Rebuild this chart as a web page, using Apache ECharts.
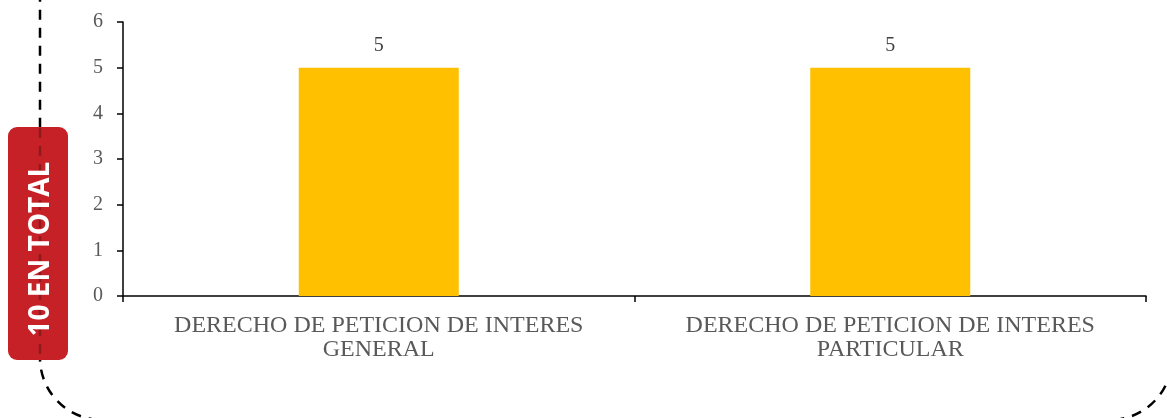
<!DOCTYPE html>
<html>
<head>
<meta charset="utf-8">
<script src="https://cdn.jsdelivr.net/npm/echarts@6/dist/echarts.min.js"></script>
<style>
  html, body { margin: 0; padding: 0; background: #fff; }
  #chart { width: 1167px; height: 418px; }
</style>
</head>
<body>
<div id="chart"></div>
<script>
  var categories = ['DERECHO DE PETICION DE INTERES\nGENERAL', 'DERECHO DE PETICION DE INTERES\nPARTICULAR'];
  var values = [5, 5];
  var yMax = 6;
  var badgeText = '10 EN TOTAL';

  var chart = echarts.init(document.getElementById('chart'));

  chart.setOption({
    animation: false,
    grid: { left: 123, right: 21, top: 22, bottom: 122 },
    xAxis: {
      type: 'category',
      data: categories,
      axisLine: { lineStyle: { color: '#000', width: 1.5 } },
      axisTick: { show: true, length: 6, lineStyle: { color: '#000', width: 1.5 } },
      axisLabel: {
        color: '#595959',
        fontFamily: 'Liberation Serif',
        fontSize: 24,
        lineHeight: 24,
        margin: 18,
        interval: 0
      }
    },
    yAxis: {
      type: 'value',
      min: 0,
      max: yMax,
      interval: 1,
      splitLine: { show: false },
      axisLine: { show: true, lineStyle: { color: '#000', width: 1.5 } },
      axisTick: { show: true, length: 6, lineStyle: { color: '#000', width: 1.5 } },
      axisLabel: {
        color: '#595959',
        fontFamily: 'Liberation Serif',
        fontSize: 20,
        margin: 20
      }
    },
    series: [{
      type: 'bar',
      data: values,
      barWidth: 160,
      itemStyle: { color: '#FFC000' },
      label: {
        show: true,
        position: 'top',
        distance: 12,
        color: '#404040',
        fontFamily: 'Liberation Serif',
        fontSize: 20
      }
    }],
    graphic: [
      {
        type: 'rect',
        z: 0,
        silent: true,
        shape: { x: 40, y: -100, width: 1132, height: 520, r: 62 },
        style: { fill: 'none', stroke: '#000', lineWidth: 2.5, lineDash: [10, 8] }
      },
      {
        type: 'rect',
        z: 10,
        silent: true,
        shape: { x: 8, y: 127, width: 60, height: 233, r: 9 },
        style: { fill: '#C62127' }
      },
      {
        // dashed border seen through the badge
        type: 'line',
        z: 11,
        silent: true,
        shape: { x1: 40, y1: 128, x2: 40, y2: 359 },
        style: { stroke: '#8E1A1E', lineWidth: 2.5, lineDash: [10, 8] }
      },
      {
        type: 'text',
        z: 12,
        silent: true,
        x: 41,
        y: 249,
        rotation: Math.PI / 2,
        style: {
          text: badgeText,
          fill: '#fff',
          font: 'bold 28px "Open Sans"',
          align: 'center',
          verticalAlign: 'middle'
        }
      }
    ]
  });
</script>
</body>
</html>
